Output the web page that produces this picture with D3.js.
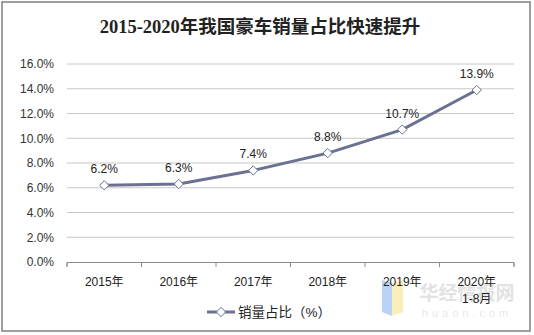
<!DOCTYPE html>
<html><head><meta charset="utf-8">
<script src="https://cdn.jsdelivr.net/npm/d3@7/dist/d3.min.js"></script>
<style>body{margin:0;background:#fff}svg{display:block}</style>
</head><body>
<svg id="c" width="534" height="335"></svg>
<script>
const categories = ["2015年","2016年","2017年","2018年","2019年","2020年\n1-8月"];
const values = [6.2, 6.3, 7.4, 8.8, 10.7, 13.9];
const valueLabels = ["6.2%","6.3%","7.4%","8.8%","10.7%","13.9%"];
const yTicks = [0,2,4,6,8,10,12,14,16];
const title = "2015-2020年我国豪车销量占比快速提升";
const legendLabel = "销量占比（%）";

const svg = d3.select("#c");
const font = "'Liberation Sans','Noto Sans CJK SC',sans-serif";
svg.append("rect").attr("x",2).attr("y",2).attr("width",528).attr("height",329)
  .attr("fill","#fff").attr("stroke","#7f7f7f").attr("stroke-width",1.5);

svg.append("text").attr("x",260).attr("y",33).attr("text-anchor","middle")
  .attr("font-family","'Liberation Serif','Noto Sans CJK SC',serif").attr("font-weight","bold")
  .attr("font-size",18.5).attr("fill","#222").text(title);

const x = d3.scaleBand().domain(categories).range([67,514]);
const y = d3.scaleLinear().domain([0,16]).range([262,64]);

svg.append("g").selectAll("line").data(yTicks.filter(d=>d>0)).join("line")
  .attr("x1",67).attr("x2",514).attr("y1",d=>y(d)).attr("y2",d=>y(d))
  .attr("stroke","#c8c8c8").attr("stroke-width",1);

const ya = svg.append("g").attr("transform","translate(57,0)")
  .call(d3.axisLeft(y).tickValues(yTicks).tickFormat(d=>d.toFixed(1)+"%").tickSize(0));
ya.select(".domain").remove();
ya.selectAll("text").attr("font-family",font).attr("font-size",12).attr("fill","#333").attr("dx",0);

// watermark (drawn beneath labels)
const wm = svg.append("g").attr("opacity",0.8);
wm.append("path").attr("d","M382,280 L392,283 L392,316 L382,312Z").attr("fill","#a9c8f5");
wm.append("path").attr("d","M392,283 L403,280 L403,312 L392,316Z").attr("fill","#f8eaa8");
wm.append("text").attr("x",467).attr("y",300).attr("text-anchor","middle")
  .attr("font-family",font).attr("font-size",19).attr("fill","#dcdcdc").attr("font-weight","bold").text("华经情报网");
wm.append("text").attr("x",467).attr("y",317).attr("text-anchor","middle")
  .attr("font-family",font).attr("font-size",11).attr("letter-spacing",4).attr("fill","#e4e4e4").text("huaon.com");

const xa = svg.append("g").attr("transform","translate(0,262.5)")
  .call(d3.axisBottom(x).tickSize(0).tickFormat(""));
xa.select(".domain").attr("stroke","#8c8c8c").attr("d","M67,4V0H514V4");
const edges = categories.map(c=>x(c)).concat([x.range()[1]]);
svg.append("g").selectAll("line").data(edges).join("line")
  .attr("x1",d=>d).attr("x2",d=>d).attr("y1",262.5).attr("y2",267)
  .attr("stroke","#8c8c8c");
const xl = svg.append("g");
categories.forEach(c=>{
  c.split("\n").forEach((l,i)=>{
    xl.append("text").attr("x",x(c)+x.bandwidth()/2).attr("y",286+i*17)
      .attr("text-anchor","middle").attr("font-family",font).attr("font-size",12)
      .attr("fill","#222").text(l);
  });
});

const cx = c=>x(c)+x.bandwidth()/2;
const lineColor = "#6a7191";
svg.append("path").datum(values)
  .attr("d", d3.line().x((d,i)=>cx(categories[i])).y(d=>y(d)))
  .attr("fill","none").attr("stroke",lineColor).attr("stroke-width",3);

const diamond = d3.symbol().type(d3.symbolDiamond2).size(55);
svg.append("g").selectAll("path").data(values).join("path")
  .attr("transform",(d,i)=>`translate(${cx(categories[i])},${y(d)})`)
  .attr("d",diamond).attr("fill","#fff").attr("stroke",lineColor).attr("stroke-width",1);

svg.append("g").selectAll("text").data(values).join("text")
  .attr("x",(d,i)=>cx(categories[i])).attr("y",d=>y(d)-12)
  .attr("text-anchor","middle").attr("font-family",font).attr("font-size",12)
  .attr("fill","#222").text((d,i)=>valueLabels[i]);

const lg = svg.append("g");
lg.append("line").attr("x1",207).attr("x2",235).attr("y1",312).attr("y2",312)
  .attr("stroke",lineColor).attr("stroke-width",3);
lg.append("path").attr("transform","translate(221,312)").attr("d",diamond)
  .attr("fill","#fff").attr("stroke",lineColor).attr("stroke-width",1);
lg.append("text").attr("x",238).attr("y",317).attr("font-family",font).attr("font-size",13.5)
  .attr("fill","#222").text(legendLabel);
</script>
</body></html>
